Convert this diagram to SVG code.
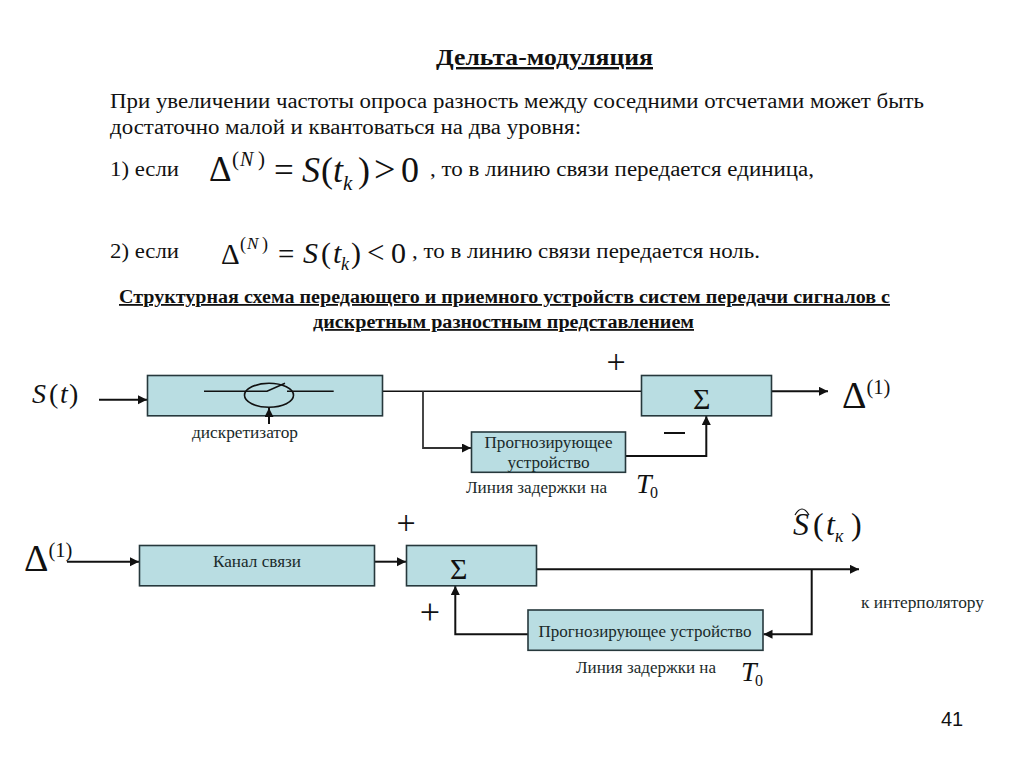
<svg xmlns="http://www.w3.org/2000/svg" width="1024" height="767" viewBox="0 0 1024 767">
<style>
text{font-family:"Liberation Serif","Times New Roman",serif;fill:#111}
.body{font-size:20.5px}
.small{font-size:16.5px;fill:#1a2a2a}
.bold{font-weight:bold;text-decoration:underline}
.it{font-style:italic}
.box{fill:#b9dde2;stroke:#26383c;stroke-width:1.6}
.ln{fill:none;stroke:#111;stroke-width:1.6}
.th{fill:none;stroke:#111;stroke-width:2}
.gr{fill:none;stroke:#333;stroke-width:1.8}
</style>
<defs>
<marker id="a" markerUnits="userSpaceOnUse" markerWidth="10" markerHeight="10" refX="9" refY="4.5" orient="auto"><path d="M0 0L9 4.5L0 9z" fill="#111"/></marker>
</defs>
<rect width="1024" height="767" fill="#fff"/>
<g id="header">
<text class="bold" x="436" y="65" font-size="24" textLength="217" lengthAdjust="spacingAndGlyphs">Дельта-модуляция</text>
<text class="body" x="110" y="108" textLength="814" lengthAdjust="spacingAndGlyphs">При увеличении частоты опроса разность между соседними отсчетами может быть</text>
<text class="body" x="110" y="134" textLength="471" lengthAdjust="spacingAndGlyphs">достаточно малой и квантоваться на два уровня:</text>
<text class="body" x="110" y="176" textLength="69" lengthAdjust="spacingAndGlyphs">1) если</text>
<text class="body" x="430" y="176" textLength="384" lengthAdjust="spacingAndGlyphs">, то в линию связи передается единица,</text>
<text class="body" x="110" y="258" textLength="69" lengthAdjust="spacingAndGlyphs">2) если</text>
<text class="body" x="412" y="258" textLength="348" lengthAdjust="spacingAndGlyphs">, то в линию связи передается ноль.</text>
<text class="bold" x="119" y="303" font-size="18" textLength="771" lengthAdjust="spacingAndGlyphs">Структурная схема передающего и приемного устройств систем передачи сигналов с</text>
<text class="bold" x="313" y="328" font-size="18" textLength="381" lengthAdjust="spacingAndGlyphs">дискретным разностным представлением</text>
</g>
<g id="formula1">
<text x="209" y="181" font-size="35">Δ</text>
<text x="232" y="166" font-size="21">(</text><text class="it" x="240" y="166" font-size="20">N</text><text x="258" y="166" font-size="21">)</text>
<text x="274" y="182" font-size="35">=</text>
<text class="it" x="302" y="182" font-size="36">S</text>
<text x="321" y="182" font-size="36">(</text><text class="it" x="333" y="182" font-size="36">t</text><text class="it" x="343" y="190" font-size="21">k</text>
<text x="358" y="182" font-size="36">)</text>
<text x="374" y="182" font-size="38">&gt;</text>
<text x="401" y="182" font-size="36">0</text>
</g>
<g id="formula2">
<text x="221" y="264" font-size="29">Δ</text>
<text x="240" y="250" font-size="18">(</text><text class="it" x="247" y="249" font-size="17">N</text><text x="262" y="250" font-size="18">)</text>
<text x="278" y="264" font-size="29">=</text>
<text class="it" x="303" y="263" font-size="30">S</text>
<text x="321" y="263" font-size="30">(</text><text class="it" x="333" y="263" font-size="30">t</text><text class="it" x="341" y="270" font-size="18">k</text>
<text x="351" y="263" font-size="30">)</text>
<text x="367" y="263" font-size="31">&lt;</text>
<text x="391" y="263" font-size="30">0</text>
</g>
<g id="connectors">
<path class="th" d="M99 399.7H147" marker-end="url(#a)"/>
<path class="ln" d="M382.5 391.3H641"/>
<path class="gr" d="M423 391.3V448H471" marker-end="url(#a)"/>
<path class="th" d="M625.5 456H706.3V416" marker-end="url(#a)"/>
<path class="th" d="M771.5 391.3H828" marker-end="url(#a)"/>
<path class="th" d="M67 561.7H139" marker-end="url(#a)"/>
<path class="th" d="M374.5 561.7H406" marker-end="url(#a)"/>
<path class="th" d="M536.5 569.3H859" marker-end="url(#a)"/>
<path class="th" d="M811.7 569.3V634.3H763.5" marker-end="url(#a)"/>
<path class="th" d="M528 634.3H455.3V586" marker-end="url(#a)"/>
</g>
<g id="sampler">
<rect class="box" x="147.5" y="375.5" width="235" height="40.3"/>
<path class="ln" d="M204 391.3H267L285 383.3M287 391.3H333.7"/>
<ellipse class="ln" cx="269" cy="395.3" rx="24.5" ry="12"/>
<path class="th" d="M269 424V408" marker-end="url(#a)"/>
<text class="small" x="192" y="438" textLength="106" lengthAdjust="spacingAndGlyphs">дискретизатор</text>
</g>
<g id="predictor1">
<rect class="box" x="471.5" y="432" width="154" height="40.3"/>
<text class="small" x="484.5" y="448" textLength="128" lengthAdjust="spacingAndGlyphs">Прогнозирующее</text>
<text class="small" x="507.5" y="468" textLength="82" lengthAdjust="spacingAndGlyphs">устройство</text>
</g>
<g id="delay1">
<text class="small" x="466" y="493" textLength="141" lengthAdjust="spacingAndGlyphs">Линия задержки на</text>
<text class="it" x="636" y="493" font-size="28">T</text><text x="650" y="498" font-size="16">0</text>
</g>
<g id="sum1">
<rect class="box" x="641.5" y="375.5" width="130" height="40.3"/>
<text x="693" y="409" font-size="30">Σ</text>
<text x="616" y="373" text-anchor="middle" font-size="34">+</text>
<path d="M664 433H685" stroke="#111" stroke-width="2" fill="none"/>
</g>
<g id="labels-top">
<text class="it" x="32" y="403" font-size="28">S</text><text x="49" y="403" font-size="28">(</text><text class="it" x="60" y="403" font-size="28">t</text><text x="69" y="403" font-size="28">)</text>
<text x="842" y="408" font-size="38">Δ<tspan font-size="20.5" dy="-14">(1)</tspan></text>
</g>
<g id="channel">
<rect class="box" x="139.5" y="545.5" width="235" height="40.3"/>
<text class="small" x="213" y="567" textLength="88" lengthAdjust="spacingAndGlyphs">Канал связи</text>
</g>
<g id="sum2">
<rect class="box" x="406.5" y="545.5" width="130" height="40.3"/>
<text x="450" y="579" font-size="30">Σ</text>
<text x="406" y="534" text-anchor="middle" font-size="34">+</text>
<text x="430" y="624" text-anchor="middle" font-size="36">+</text>
</g>
<g id="predictor2">
<rect class="box" x="528" y="610" width="235" height="40.3"/>
<text class="small" x="538.5" y="637" textLength="213" lengthAdjust="spacingAndGlyphs">Прогнозирующее устройство</text>
</g>
<g id="delay2">
<text class="small" x="576" y="673" textLength="140" lengthAdjust="spacingAndGlyphs">Линия задержки на</text>
<text class="it" x="741" y="681" font-size="28">T</text><text x="755" y="686" font-size="16">0</text>
</g>
<g id="labels-bottom">
<text x="24" y="571" font-size="38">Δ<tspan font-size="20.5" dy="-14">(1)</tspan></text>
<path class="ln" d="M795 515Q802 503 809 515" style="stroke-width:1.2"/>
<text class="it" x="793" y="535" font-size="32">S</text><text x="813" y="535" font-size="32">(</text><text class="it" x="826" y="535" font-size="32">t</text><text class="it" x="835" y="542" font-size="18">к</text><text x="851" y="535" font-size="32">)</text>
<text class="small" x="861" y="608" textLength="123" lengthAdjust="spacingAndGlyphs">к интерполятору</text>
</g>
<g id="page">
<text x="941" y="726" font-size="20" style="font-family:'Liberation Sans',Arial,sans-serif">41</text>
</g>
</svg>
